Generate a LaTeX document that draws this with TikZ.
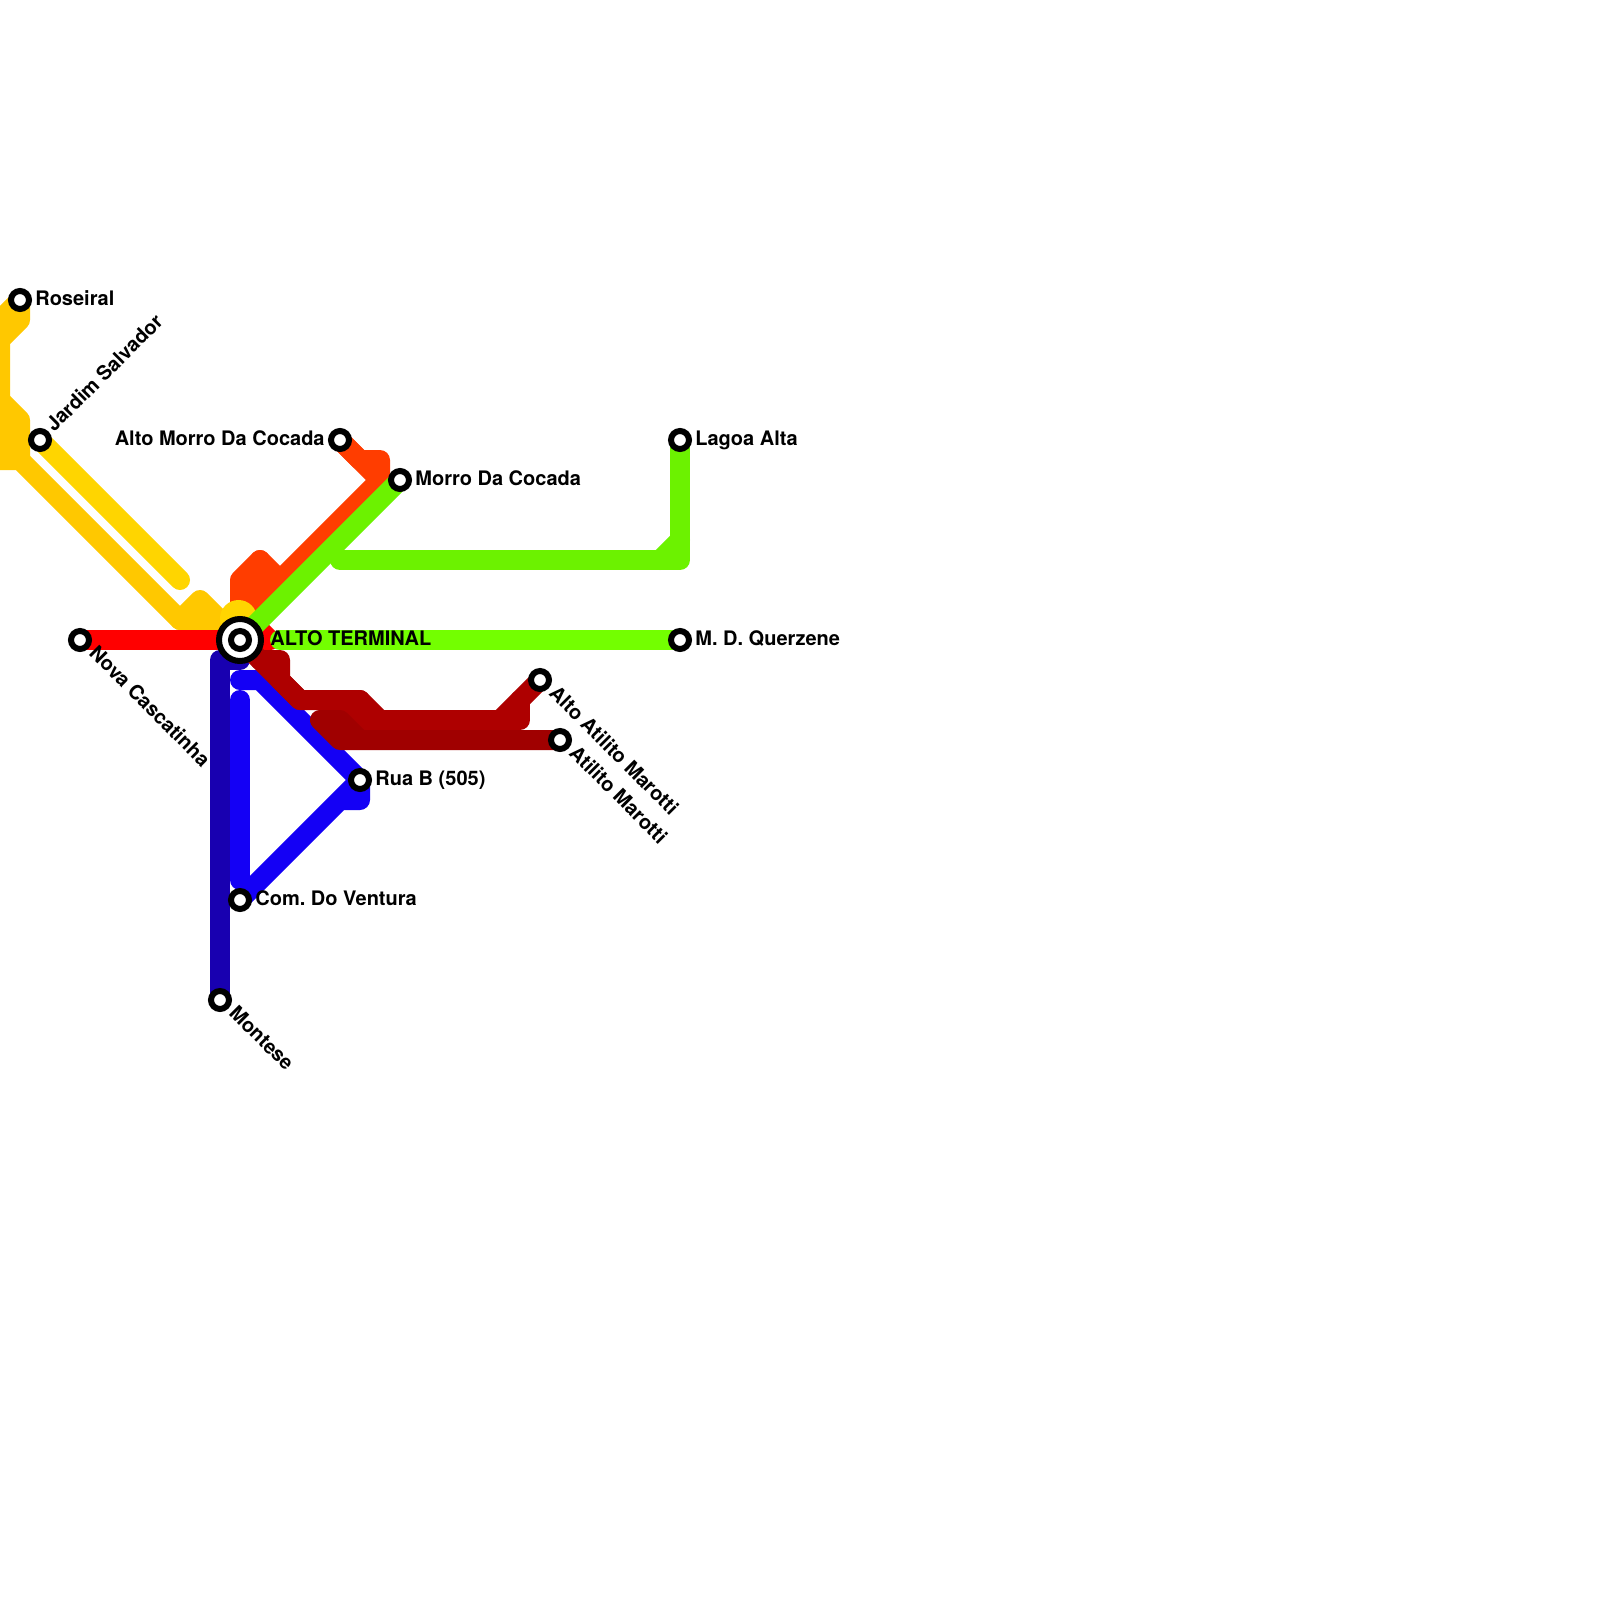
\documentclass[tikz,border=0pt]{standalone}
\usepackage{fontspec}
\setmainfont{TeX Gyre Heros}
\frenchspacing
\tikzset{
  x=0.5pt,y=-0.5pt,
  route/.style={line width=10pt,line join=round,line cap=round},
  stop/.style={circle,draw=black,fill=white,line width=3pt,minimum size=9pt,inner sep=0pt,outer sep=0pt},
  hub/.style={circle,draw=black,fill=white,line width=3pt,minimum size=21pt,inner sep=0pt,outer sep=0pt},
  lbl/.style={font=\bfseries\fontsize{10pt}{12pt}\selectfont,inner sep=0pt,text height=7.2pt,text depth=0pt,anchor=west},
}
\definecolor{yDark}{HTML}{FFC800}
\definecolor{yLight}{HTML}{FFD500}
\definecolor{orangeL}{HTML}{FF3D00}
\definecolor{greenA}{HTML}{6CF200}
\definecolor{greenB}{HTML}{73FF00}
\definecolor{redL}{HTML}{FF0000}
\definecolor{redA}{HTML}{AE0000}
\definecolor{redB}{HTML}{A00000}
\definecolor{blueA}{HTML}{1400F5}
\definecolor{blueB}{HTML}{1800B0}
\begin{document}
\begin{tikzpicture}
\useasboundingbox (0,0) rectangle (1600,1600);
\fill[white] (0,0) rectangle (1600,1600);
\coordinate (pRos) at (20,300);
\coordinate (pJar) at (40,440);
\coordinate (pAlt) at (240,640);
\coordinate (pNov) at (80,640);
\coordinate (pAmc) at (340,440);
\coordinate (pMor) at (400,480);
\coordinate (pLag) at (680,440);
\coordinate (pQue) at (680,640);
\coordinate (pAam) at (540,680);
\coordinate (pAti) at (560,740);
\coordinate (pRua) at (360,780);
\coordinate (pCom) at (240,900);
\coordinate (pMon) at (220,1000);
% yellow
\draw[route,yDark] (pRos) -- (20,320) -- (0,340) -- (0,460) -- (20,460) -- (180,620) -- (220,620) -- (pAlt);
\draw[route,yDark] (pRos) -- (0,320);
\draw[route,yDark] (0,400) -- (20,420) -- (20,460);
\draw[route,yDark] (180,620) -- (200,600) -- (pAlt);
% orange
\draw[route,orangeL] (pAmc) -- (360,460) -- (380,460) -- (380,480) -- (240,620);
\draw[route,orangeL] (pAmc) -- (380,480);
\draw[route,orangeL] (pAlt) -- (240,580) -- (260,560) -- (280,580);
\draw[route,orangeL] (260,560) -- (260,600);
% red
\draw[route,redL] (pNov) -- (pAlt) -- (260,640);
\draw[route,redL] (250,620) -- (270,640) -- (pAlt);
% light yellow
\draw[route,yLight] (pJar) -- (180,580);
\fill[yLight] (238.5,618.5) circle (9.25pt);
% blues
\draw[route,blueB] (pMon) -- (220,660) -- (240,660) -- (pAlt);
\draw[route,blueA] (pRua) -- (260,680) -- (240,680);
\draw[route,blueA] (240,700) -- (240,880);
\draw[route,blueA] (pCom) -- (pRua) -- (360,800) -- (340,800);
% dark reds
\draw[route,redA] (pAam) -- (500,720) -- (380,720) -- (360,700) -- (300,700) -- (pAlt);
\draw[route,redA] (520,700) -- (520,720) -- (500,720);
\draw[route,redA] (300,700) -- (280,680) -- (280,660) -- (260,660);
\draw[route,redA] (340,700) -- (360,720) -- (380,720);
\draw[route,redA] (360,700) -- (360,720);
\draw[route,redB] (pAti) -- (340,740) -- (320,720) -- (340,720) -- (360,740);
% greens
\draw[route,greenB] (pQue) -- (280,640);
\draw[route,greenA] (pMor) -- (pAlt);
\draw[route,greenA] (pLag) -- (680,560) -- (340,560);
\draw[route,greenA] (680,540) -- (660,560);
% stations
\node[hub] (hAlt) at (pAlt) {};
\node[stop] (sAlt) at (pAlt) {};
\node[stop] (sRos) at (pRos) {};
\node[stop] (sJar) at (pJar) {};
\node[stop] (sNov) at (pNov) {};
\node[stop] (sAmc) at (pAmc) {};
\node[stop] (sMor) at (pMor) {};
\node[stop] (sLag) at (pLag) {};
\node[stop] (sQue) at (pQue) {};
\node[stop] (sAam) at (pAam) {};
\node[stop] (sAti) at (pAti) {};
\node[stop] (sRua) at (pRua) {};
\node[stop] (sCom) at (pCom) {};
\node[stop] (sMon) at (pMon) {};
% labels
\node[lbl] (tRos) at (35,298) {Roseiral};
\node[lbl,rotate=45] (tJar) at (49,428) {Jardim Salvador};
\node[lbl,anchor=east] (tAmc) at (325,438) {Alto Morro Da Cocada};
\node[lbl] (tMor) at (415,478) {Morro Da Cocada};
\node[lbl] (tLag) at (695,438) {Lagoa Alta};
\node[lbl] (tQue) at (695,638) {M. D. Querzene};
\node[lbl] (tAlt) at (270,638) {ALTO TERMINAL};
\node[lbl,rotate=-45] (tNov) at (93,649) {Nova Cascatinha};
\node[lbl,rotate=-45] (tAam) at (553,689) {Alto Atilito Marotti};
\node[lbl,rotate=-45] (tAti) at (573,749) {Atilito Marotti};
\node[lbl] (tRua) at (375,778) {Rua B (505)};
\node[lbl] (tCom) at (255,898) {Com. Do Ventura};
\node[lbl,rotate=-45] (tMon) at (233,1009) {Montese};
\end{tikzpicture}
\end{document}
